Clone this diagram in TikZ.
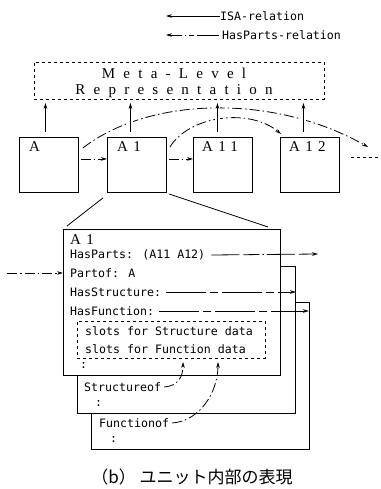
\documentclass[tikz,border=0pt]{standalone}
\usepackage{fontspec}
\setmainfont{Liberation Serif}
\newfontfamily\slotfont{DejaVu Sans Mono}
\newfontfamily\widefont[LetterSpace=55]{Liberation Serif}
\newfontfamily\unitfont[LetterSpace=35]{Liberation Serif}
\newfontfamily\jpfont{Noto Sans CJK JP}
\usetikzlibrary{arrows.meta}

\begin{document}
\begin{tikzpicture}[x=1pt,y=-1pt,
  tip/.style={-{Stealth[length=6pt,width=3.6pt]}},
  isa/.style={tip, line width=0.8pt},
  hasparts/.style={tip, line width=0.8pt, dash pattern=on 10pt off 3pt on 1.5pt off 3pt},
  gapped/.style={preaction={draw=white, line width=5pt, -}},
  unitbox/.style={draw, line width=0.9pt, fill=white, anchor=north west, inner sep=0pt},
  slot/.style={font=\slotfont\fontsize{11.6}{13}\selectfont, anchor=west, inner sep=0pt},
  boxlabel/.style={font=\unitfont\fontsize{15}{17}\selectfont, anchor=west, inner sep=0pt},
  metatext/.style={font=\widefont\fontsize{15}{17}\selectfont, inner sep=0pt},
]
\useasboundingbox (0,0) rectangle (380,489);

% legend
\node[slot] (isatext) at (220,16) {ISA-relation};
\node[slot] (hptext) at (222,35) {HasParts-relation};
\draw[isa] (isatext.west) -- ++(-54,0);
\draw[tip, line width=0.8pt, dash pattern=on 22pt off 3pt on 5pt off 3pt on 1.5pt off 3pt]
  ([xshift=-3pt]hptext.west) -- ++(-53,0);

% meta-level representation
\node[draw, dashed, line width=0.8pt, anchor=north west, minimum width=290pt,
      minimum height=37pt, inner sep=0pt] (meta) at (34,62) {};
\node[metatext] (metaA) at (174,73) {Meta-Level};
\node[metatext] (metaB) at (174,91) {Representation};

% unit boxes
\node[unitbox, minimum width=59pt, minimum height=55pt] (A)   at (19,137)  {};
\node[unitbox, minimum width=59pt, minimum height=55pt] (A1)  at (107,137) {};
\node[unitbox, minimum width=59pt, minimum height=55pt] (A11) at (193,137) {};
\node[unitbox, minimum width=59pt, minimum height=55pt] (A12) at (280,137) {};
\node[boxlabel] (lA)   at (29,147)  {A};
\node[boxlabel] (lA1)  at (117,147) {A1};
\node[boxlabel] (lA11) at (202,147) {A11};
\node[boxlabel] (lA12) at (289,147) {A12};

% has-parts links between units
\coordinate (tailend) at (368,147);
\draw[hasparts] ([shift={(4,11)}]A.north east)
  .. controls (150,96) and (275,94) .. (tailend);
\draw[hasparts] ([shift={(3,10)}]A1.north east)
  .. controls (190,115) and (250,108) .. ([shift={(1,-3)}]A12.north west);
\draw[hasparts, shorten <=2pt] ([yshift=6pt]A.east) -- ([yshift=6pt]A1.west);
\draw[hasparts, shorten <=2pt] ([yshift=6pt]A1.east) -- ([yshift=6pt]A11.west);
\draw[dashed, line width=0.8pt] ([shift={(11,-7.5)}]A12.east) -- ++(32,0);

% ISA links to the meta level
\draw[isa, gapped] ([shift={(-3.5,-5)}]A.north)   -- ++(0,-29);
\draw[isa, gapped] ([shift={(-6.5,-5)}]A1.north)  -- ++(0,-29);
\draw[isa, gapped] ([shift={(-5.5,-5)}]A11.north) -- ++(0,-29);
\draw[isa, gapped] ([shift={(-6.5,-5)}]A12.north) -- ++(0,-29);

% stacked unit frames
\node[unitbox, minimum width=218pt, minimum height=147pt] (tb) at (91,302) {};
\node[unitbox, minimum width=218pt, minimum height=147pt] (sb) at (77,266) {};
\node[unitbox, minimum width=217pt, minimum height=146pt] (fb) at (63,229) {};

% zoom lines from A1 to its detailed frame
\draw[line width=0.8pt] ([shift={(-4,5)}]A1.south west) -- ([shift={(4,-3)}]fb.north west);
\draw[line width=0.8pt] ([shift={(2,1)}]A1.south east) -- (268,227);

% slots of A1
\node[boxlabel] (fA1) at (70,240) {A1};
\node[slot] (hp) at (70,255) {HasParts: (A11 A12)};
\node[slot] (po) at (70,273) {Partof: A};
\node[slot] (hs) at (70,292) {HasStructure:};
\node[slot] (hf) at (70,311) {HasFunction:};
\node[draw, dashed, line width=0.7pt, anchor=north west, minimum width=188pt,
      minimum height=37pt, inner sep=0pt] (slotbox) at (77,321) {};
\node[slot] (sd) at (85,331) {slots for Structure data};
\node[slot] (fd) at (85,349) {slots for Function data};
\node[slot] (d1) at (80,365) {:};
\node[slot] (so) at (84,387) {Structureof};
\node[slot] (d2) at (95,403) {:};
\node[slot] (fo) at (99,423) {Functionof};
\node[slot] (d3) at (110,439) {:};

% outgoing and incoming relations of A1
\coordinate (hpend) at (318,254);
\coordinate (poin) at (7,273);
\draw[hasparts, dash pattern=on 28pt off 4pt on 16pt off 3pt on 1.5pt off 3pt]
  ([xshift=6pt]hp.east) -- (hpend);
\draw[hasparts] (poin) -- (po.west -| fb.west);
\draw[hasparts, dash pattern=on 40pt off 4pt on 8pt off 4pt]
  ([xshift=5pt]hs.east) -- (hs.east -| sb.east);
\draw[hasparts, dash pattern=on 40pt off 4pt on 8pt off 4pt, shorten >=1pt]
  ([xshift=5pt]hf.east) -- (hf.east -| tb.east);

% back references into the data slots
\coordinate (sdtip) at (183,362);
\coordinate (fdtip) at (218,362);
\draw[hasparts] ([xshift=3pt]so.east) .. controls (177,386) and (183,378) .. (sdtip);
\draw[hasparts] ([xshift=3pt]fo.east) .. controls (200,421) and (218,392) .. (fdtip);

% caption
\node[font=\jpfont\fontsize{17}{19}\selectfont, inner sep=0pt] (cap) at (192,477)
  {（b）\ ユニット内部の表現};
\end{tikzpicture}
\end{document}
